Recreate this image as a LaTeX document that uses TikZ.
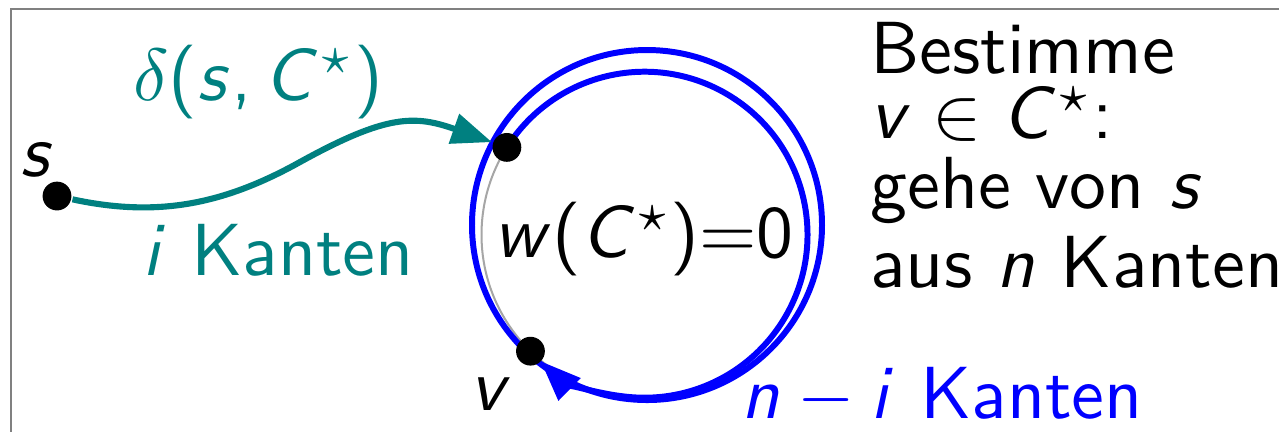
\documentclass[tikz,border=0pt]{standalone}
\usepackage{fix-cm}
\usetikzlibrary{arrows.meta, calc, backgrounds}
% sans serif math letters, digits and brackets
\DeclareSymbolFont{sfletters}{OT1}{cmss}{m}{sl}
\DeclareSymbolFont{sfupright}{OT1}{cmss}{m}{n}
\DeclareMathSymbol{s}{\mathalpha}{sfletters}{`s}
\DeclareMathSymbol{v}{\mathalpha}{sfletters}{`v}
\DeclareMathSymbol{w}{\mathalpha}{sfletters}{`w}
\DeclareMathSymbol{n}{\mathalpha}{sfletters}{`n}
\DeclareMathSymbol{i}{\mathalpha}{sfletters}{`i}
\DeclareMathSymbol{C}{\mathalpha}{sfletters}{`C}
\DeclareMathSymbol{0}{\mathalpha}{sfupright}{`0}
\DeclareMathSymbol{(}{\mathopen}{sfupright}{`(}
\DeclareMathSymbol{)}{\mathclose}{sfupright}{`)}
\DeclareMathSymbol{=}{\mathrel}{sfupright}{`=}
\DeclareMathSymbol{,}{\mathpunct}{sfupright}{`,}

\begin{document}
\begin{tikzpicture}[x=0.13889pt, y=0.13889pt,
    font=\fontsize{10.25}{12}\selectfont\sffamily,
    vertex/.style={circle, fill=black, inner sep=0pt, minimum size=4pt},
    lbl/.style={inner sep=0pt},
    taskline/.style={inner sep=0pt, anchor=base west},
    tip/.style={-{Triangle[length=5.6pt, width=4.2pt]}},
    approach/.style={teal, line width=0.85pt, tip},
    walk/.style={blue, line width=0.83pt},
    zerocycle/.style={gray!70, line width=0.28pt}]
    \useasboundingbox (0,0) rectangle (1279,431);
    \clip (0,0) rectangle (1279,431);
    % Frame
    \draw[gray, line width=0.3pt] (11,422) rectangle (1310,-30);
    % === Vertices ===
    \coordinate (cyc) at (644.5,196.3);
    \coordinate (loop) at (647,206);
    \node[vertex] (s) at (57,235) {};
    \node[vertex] (u) at ($(cyc)+(147.6:163)$) {};
    \node[vertex] (v) at ($(cyc)+(225.6:163)$) {};
    \node[lbl, anchor=base] at (38,255) {$s$};
    \node[lbl, anchor=base] at (492,21) {$v$};
    % === Paths (below the vertices) ===
    \begin{scope}[on background layer]
        \draw[zerocycle] (cyc) circle[radius=163];
        \draw[walk] (loop) circle[radius=175];
        \draw[walk, tip, shorten >=2pt] (u.center) arc[start angle=147.6, end angle=-134.4, radius=163];
        \coordinate (bend) at (300,269);
        \draw[approach] (s) .. controls (155,214) and (221,225) .. (bend)
            .. controls (387,317) and (415,316) .. (u);
    \end{scope}
    % === Labels ===
    \node[lbl, teal, anchor=base] (dist) at (258,331) {$\delta(s, C^\star)$};
    \node[lbl, teal, anchor=base] (ilbl) at (278,156) {$i$ Kanten};
    \node[lbl, anchor=base] (weight) at (644,174) {$w(C^\star){=}0$};
    \node[lbl, blue, anchor=base] (nilbl) at (942,13) {$n-i$ Kanten};
    % === Task text ===
    \node[taskline] (task1) at (869,358) {Bestimme};
    \node[taskline] (task2) at (869,293) {$v\in C^\star$:};
    \node[taskline] (task3) at (869,223) {gehe von $s$};
    \node[taskline] (task4) at (869,144) {aus $n$ Kanten};
\end{tikzpicture}
\end{document}
